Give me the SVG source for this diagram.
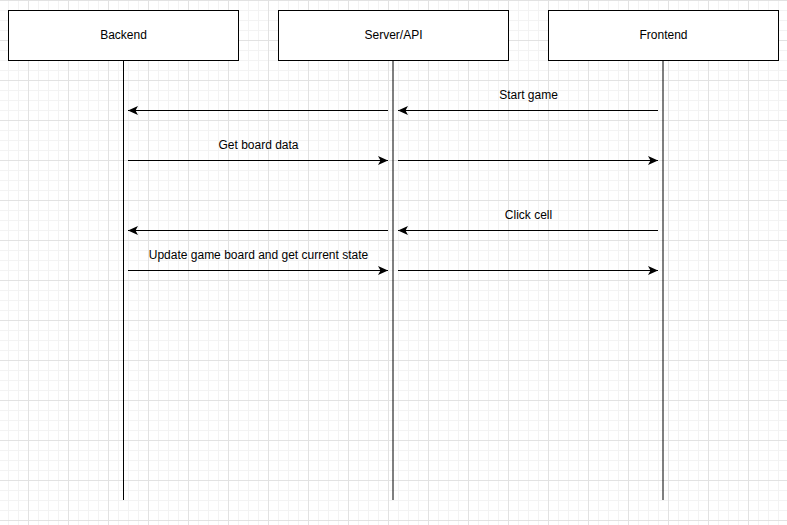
<svg xmlns="http://www.w3.org/2000/svg" width="787" height="525" viewBox="0 0 787 525">
<defs>
<pattern id="minor" x="8" y="0" width="10" height="10" patternUnits="userSpaceOnUse">
<path d="M0.5 0V10M0 0.5H10" stroke="#f3f3f3" stroke-width="1" fill="none"/>
</pattern>
<pattern id="major" x="28" y="0" width="40" height="40" patternUnits="userSpaceOnUse">
<path d="M0.5 0V40M0 0.5H40" stroke="#e2e2e2" stroke-width="1" fill="none"/>
</pattern>
<marker id="arr" markerWidth="10" markerHeight="10" viewBox="0 0 10 10" refX="10" refY="5" orient="auto" markerUnits="userSpaceOnUse">
<path d="M10 5L0 0.5L2.5 5L0 9.5Z" fill="#000"/>
</marker>
</defs>
<style>
.box{fill:#fff;stroke:#000;stroke-width:1}
.lbl{font-family:"Liberation Sans",Arial,sans-serif;font-size:12px;fill:#000;text-anchor:middle}
.life{stroke:#000;stroke-width:1;fill:none}
.msg{stroke:#000;stroke-width:1;fill:none;marker-end:url(#arr)}
</style>
<rect width="787" height="525" fill="#fff"/>
<rect width="787" height="525" fill="url(#minor)"/>
<rect width="787" height="525" fill="url(#major)"/>
<g id="backend">
<rect class="box" x="8.5" y="10.5" width="230" height="50"/>
<text class="lbl" x="123.5" y="38.5">Backend</text>
<line class="life" x1="123.5" y1="61" x2="123.5" y2="500"/>
</g>
<g id="server">
<rect class="box" x="278.5" y="10.5" width="230" height="50"/>
<text class="lbl" x="393.5" y="38.5">Server/API</text>
<line class="life" x1="393" y1="61" x2="393" y2="500"/>
</g>
<g id="frontend">
<rect class="box" x="548.5" y="10.5" width="230" height="50"/>
<text class="lbl" x="663.5" y="38.5">Frontend</text>
<line class="life" x1="663" y1="61" x2="663" y2="500"/>
</g>
<g id="connectors">
<line class="msg" x1="658" y1="110.5" x2="398" y2="110.5"/>
<line class="msg" x1="388" y1="110.5" x2="128" y2="110.5"/>
<line class="msg" x1="128" y1="160.5" x2="388" y2="160.5"/>
<line class="msg" x1="398" y1="160.5" x2="658" y2="160.5"/>
<line class="msg" x1="658" y1="230.5" x2="398" y2="230.5"/>
<line class="msg" x1="388" y1="230.5" x2="128" y2="230.5"/>
<line class="msg" x1="128" y1="270.5" x2="388" y2="270.5"/>
<line class="msg" x1="398" y1="270.5" x2="658" y2="270.5"/>
<text class="lbl" x="528.5" y="99">Start game</text>
<text class="lbl" x="258.5" y="149">Get board data</text>
<text class="lbl" x="528.5" y="219">Click cell</text>
<text class="lbl" x="258.5" y="259">Update game board and get current state</text>
</g>
</svg>
